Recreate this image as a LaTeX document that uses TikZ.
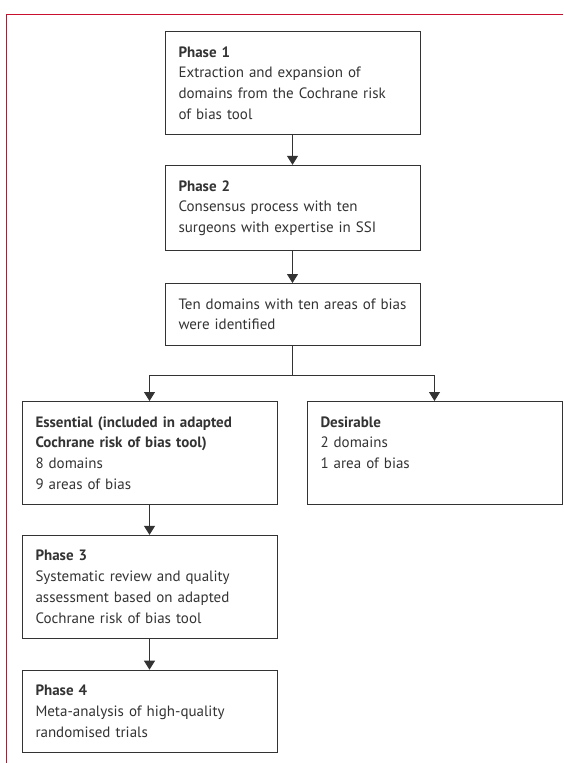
\documentclass[tikz,border=0pt]{standalone}
\usepackage{fontspec}
\setmainfont{PT Sans}
\usetikzlibrary{positioning,arrows.meta}
\definecolor{lancetred}{HTML}{C8102E}
\definecolor{boxgray}{HTML}{333333}

\begin{document}
\begin{tikzpicture}[x=1pt, y=1pt, color=boxgray, line width=0.9pt, >={Triangle[width=11pt,length=9pt]}, node distance=30pt, every node/.style={font=\fontsize{15}{20.7}\selectfont}]
  % flow chart boxes, all of the same width
  \tikzset{block/.style={draw, text width=228pt, inner xsep=13.5pt, inner ysep=15pt, align=left}}
  \useasboundingbox (0,0) rectangle (563,-763);
  % journal frame at the top and on the left
  \draw[lancetred] (563,-14.7) -- (6.7,-14.7) -- (6.7,-763);

  % upper column
  \node[block, anchor=north] (p1) at (292.5,-31) {\textbf{Phase 1}\\Extraction and expansion of\\domains from the Cochrane risk\\of bias tool};
  \node[block, below=30pt of p1] (p2) {\textbf{Phase 2}\\Consensus process with ten\\surgeons with expertise in SSI};
  \node[block, below=32pt of p2] (ten) {\mbox{Ten domains with ten areas of bias}\\were identified};

  % the two groups of domains
  \node[block, anchor=north] (ess) at (149.5,-401) {\textbf{Essential (included in adapted}\\\textbf{Cochrane risk of bias tool)}\\8 domains\\9 areas of bias};
  \node[block, anchor=north, text depth=62.1pt] (des) at (434.5,-401) {\textbf{Desirable}\\2 domains\\1 area of bias};

  % lower column
  \node[block, below=30pt of ess] (p3) {\textbf{Phase 3}\\Systematic review and quality\\assessment based on adapted\\Cochrane risk of bias tool};
  \node[block, below=31pt of p3] (p4) {\textbf{Phase 4}\\Meta-analysis of high-quality\\randomised trials};

  % arrows
  \draw[->] (p1) -- (p2);
  \draw[->] (p2) -- (ten);
  \draw (ten.south) -- ++(0,-30) coordinate (split);
  \draw[->] (split) -| (ess.north);
  \draw[->] (split) -| (des.north);
  \draw[->] (ess) -- (p3);
  \draw[->] (p3) -- (p4);
\end{tikzpicture}
\end{document}
